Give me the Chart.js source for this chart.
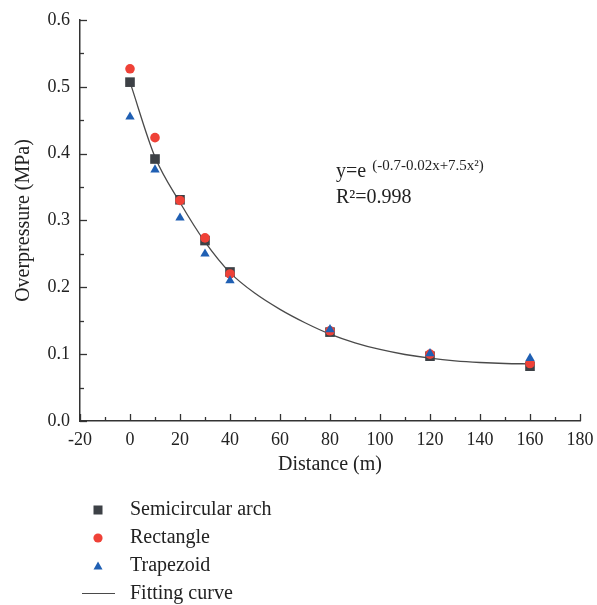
<!DOCTYPE html>
<html>
<head>
<meta charset="utf-8">
<script src="https://cdn.jsdelivr.net/npm/chart.js@4"></script>
<style>
html,body{margin:0;padding:0;background:#fff;}
#wrap{position:relative;width:597px;height:605px;}
</style>
</head>
<body>
<div id="wrap"><canvas id="c" width="597" height="605"></canvas></div>
<script>
// ---- data ----
const distances = [0, 10, 20, 30, 40, 80, 120, 160];
const semicircular = [0.507, 0.392, 0.331, 0.270, 0.223, 0.133, 0.097, 0.082];
const rectangle = [0.527, 0.424, 0.330, 0.274, 0.220, 0.135, 0.100, 0.086];
const trapezoid = [0.455, 0.376, 0.304, 0.250, 0.210, 0.137, 0.101, 0.094];
const fitX = [0, 10, 20, 30, 40, 50, 60, 70, 80, 90, 100, 110, 120, 130, 140, 150, 160];
const fitY = [0.507, 0.395, 0.327, 0.268, 0.222, 0.191, 0.167, 0.147, 0.130, 0.117, 0.107, 0.0995, 0.094, 0.090, 0.0875, 0.086, 0.0855];
const xTicks = [-20, 0, 20, 40, 60, 80, 100, 120, 140, 160, 180];
const yTicks = [0.0, 0.1, 0.2, 0.3, 0.4, 0.5, 0.6];
const seriesNames = ['Semicircular arch', 'Rectangle', 'Trapezoid', 'Fitting curve'];
const xTitle = 'Distance (m)';
const yTitle = 'Overpressure (MPa)';
const eqMain = 'y=e';
const eqSup = '(-0.7-0.02x+7.5x\u00B2)';
const eqR2 = 'R\u00B2=0.998';

const C_SQ = '#3d4146', C_CI = '#ef4137', C_TR = '#1f5fb3', C_LINE = '#4a4a4a', C_TXT = '#222';
const FONT = "'Liberation Serif', 'DejaVu Serif', serif";

const pts = (xs, ys) => xs.map((x, i) => ({x: x, y: ys[i]}));

const minorTicks = {
  id: 'minorTicks',
  afterDraw(chart) {
    const ctx = chart.ctx, xs = chart.scales.x, ys = chart.scales.y;
    const a = chart.chartArea;
    ctx.save();
    ctx.strokeStyle = '#333';
    ctx.lineWidth = 1.3;
    const xMin = xTicks[0], xMax = xTicks[xTicks.length - 1];
    const xStep = (xTicks[1] - xTicks[0]) / 2;
    for (let i = 0; xMin + i * xStep <= xMax + 1e-9; i++) {
      const v = xMin + i * xStep;
      const px = Math.round(xs.getPixelForValue(v)) + 0.5;
      const len = i % 2 === 0 ? 7 : 4;
      ctx.beginPath(); ctx.moveTo(px, a.bottom); ctx.lineTo(px, a.bottom - len); ctx.stroke();
    }
    const yMin = yTicks[0], yMax = yTicks[yTicks.length - 1];
    const yStep = (yTicks[1] - yTicks[0]) / 2;
    for (let i = 0; yMin + i * yStep <= yMax + 1e-9; i++) {
      const v = yMin + i * yStep;
      const py = Math.round(ys.getPixelForValue(v)) + 0.5;
      const len = i % 2 === 0 ? 7 : 4;
      ctx.beginPath(); ctx.moveTo(a.left, py); ctx.lineTo(a.left + len, py); ctx.stroke();
    }
    ctx.restore();
  }
};

const annotations = {
  id: 'annotations',
  afterDraw(chart) {
    const ctx = chart.ctx;
    ctx.save();
    ctx.fillStyle = C_TXT;
    ctx.textBaseline = 'alphabetic';
    ctx.textAlign = 'left';
    // equation
    ctx.font = '20px ' + FONT;
    ctx.fillText(eqMain, 336, 177);
    const w = ctx.measureText(eqMain).width;
    ctx.font = '15px ' + FONT;
    ctx.fillText(eqSup, 336 + w + 6, 170);
    ctx.font = '20px ' + FONT;
    ctx.fillText(eqR2, 336, 203);
    // legend
    const lx = 98, tx = 130;
    const rows = [510, 538, 566, 594];
    ctx.fillStyle = C_SQ;
    ctx.fillRect(lx - 4.5, rows[0] - 4.5, 9, 9);
    ctx.fillStyle = C_CI;
    ctx.beginPath(); ctx.arc(lx, rows[1], 4.6, 0, Math.PI * 2); ctx.fill();
    ctx.fillStyle = C_TR;
    ctx.beginPath();
    ctx.moveTo(lx, rows[2] - 4.5); ctx.lineTo(lx + 4.5, rows[2] + 3.5); ctx.lineTo(lx - 4.5, rows[2] + 3.5);
    ctx.closePath(); ctx.fill();
    ctx.strokeStyle = C_LINE; ctx.lineWidth = 1.2;
    ctx.beginPath(); ctx.moveTo(82, rows[3] - 0.5); ctx.lineTo(115, rows[3] - 0.5); ctx.stroke();
    ctx.fillStyle = C_TXT;
    ctx.font = '20px ' + FONT;
    seriesNames.forEach((n, i) => ctx.fillText(n, tx, rows[i] + 5));
    ctx.restore();
  }
};

new Chart(document.getElementById('c'), {
  type: 'scatter',
  data: {
    datasets: [
      {label: seriesNames[3], type: 'line', data: pts(fitX, fitY), borderColor: C_LINE, borderWidth: 1.3,
       pointRadius: 0, fill: false, cubicInterpolationMode: 'monotone', order: 4},
      {label: seriesNames[0], data: pts(distances, semicircular), pointStyle: 'rect', pointRadius: 6.8,
       backgroundColor: C_SQ, borderWidth: 0, order: 3},
      {label: seriesNames[1], data: pts(distances, rectangle), pointStyle: 'circle', pointRadius: 4.8,
       backgroundColor: C_CI, borderWidth: 0, order: 2},
      {label: seriesNames[2], data: pts(distances, trapezoid), pointStyle: 'triangle', pointRadius: 5.4,
       backgroundColor: C_TR, borderWidth: 0, order: 1}
    ]
  },
  options: {
    responsive: false,
    animation: false,
    events: [],
    layout: {padding: {left: 0, right: 17, top: 20, bottom: 124}},
    plugins: {legend: {display: false}, tooltip: {enabled: false}},
    scales: {
      x: {
        type: 'linear', min: xTicks[0], max: xTicks[xTicks.length - 1],
        afterFit(s) { s.height = 60; s.paddingLeft = 0; s.paddingRight = 0; },
        afterBuildTicks(s) { s.ticks = xTicks.map(v => ({value: v})); },
        grid: {display: false, drawTicks: false, tickLength: 0},
        border: {display: true, color: '#333', width: 1.5},
        ticks: {padding: 8, color: C_TXT, font: {family: FONT, size: 18}, callback: v => String(v)},
        title: {display: true, text: xTitle, color: C_TXT, font: {family: FONT, size: 20}, padding: {top: 0, bottom: 4}}
      },
      y: {
        type: 'linear', min: yTicks[0], max: yTicks[yTicks.length - 1],
        afterFit(s) { s.width = 80; s.paddingTop = 0; s.paddingBottom = 0; },
        afterBuildTicks(s) { s.ticks = yTicks.map(v => ({value: v})); },
        grid: {display: false, drawTicks: false, tickLength: 0},
        border: {display: true, color: '#333', width: 1.5},
        ticks: {padding: 10, color: C_TXT, font: {family: FONT, size: 18}, callback: v => Number(v).toFixed(1)},
        title: {display: true, text: yTitle, color: C_TXT, font: {family: FONT, size: 20}, padding: {top: 12, bottom: 0}}
      }
    }
  },
  plugins: [minorTicks, annotations]
});
</script>
</body>
</html>
